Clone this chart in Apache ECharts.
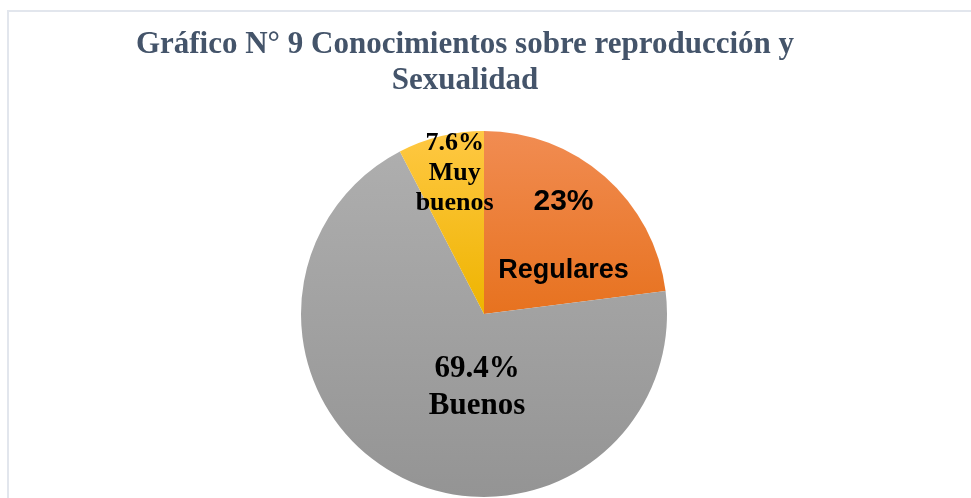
<!DOCTYPE html>
<html>
<head>
<meta charset="utf-8">
<script src="https://cdn.jsdelivr.net/npm/echarts@6/dist/echarts.min.js"></script>
<style>
  html, body { margin: 0; padding: 0; background: #fff; }
  #chart { width: 971px; height: 498px; }
</style>
</head>
<body>
<div id="chart"></div>
<script>
// datos del gráfico
const categorias = ["Regulares", "Buenos", "Muy buenos"];
const porcentajes = [23, 69.4, 7.6];
const etiquetas = ["23%", "69.4%", "7.6%"];

const titulo = "Gráfico N° 9 Conocimientos sobre reproducción y\nSexualidad";

function grad(top, bottom) {
  return new echarts.graphic.LinearGradient(0, 0, 0, 1, [
    { offset: 0, color: top },
    { offset: 1, color: bottom },
  ]);
}

const colores = [
  grad("#F18C52", "#E7721F"),
  grad("#AEAEAE", "#949494"),
  grad("#FFC843", "#EEB400"),
];

// estilos de etiqueta por porción
const etiquetaEstilo = [
  {
    offset: [17, -7],
    formatter: (p) => "{v|" + etiquetas[p.dataIndex] + "}\n{n|" + p.name + "}",
    rich: {
      v: { fontFamily: "Liberation Sans, Arial", fontWeight: "bold", fontSize: 30, lineHeight: 69, color: "#000" },
      n: { fontFamily: "Liberation Sans, Arial", fontWeight: "bold", fontSize: 27, lineHeight: 69, color: "#000" },
    },
  },
  {
    offset: [37, -10],
    formatter: (p) => "{v|" + etiquetas[p.dataIndex] + "}\n{v|" + p.name + "}",
    rich: {
      v: { fontFamily: "Liberation Serif, Times New Roman", fontWeight: "bold", fontSize: 31, lineHeight: 37, color: "#000" },
    },
  },
  {
    offset: [-7, -49],
    formatter: (p) => "{v|" + etiquetas[p.dataIndex] + "}\n{v|Muy}\n{v|buenos}",
    rich: {
      v: { fontFamily: "Liberation Serif, Times New Roman", fontWeight: "bold", fontSize: 26, lineHeight: 30, color: "#000" },
    },
  },
];

const myChart = echarts.init(document.getElementById("chart"));

myChart.setOption({
  animation: false,
  title: {
    text: titulo,
    left: 460,
    top: 22,
    textAlign: "center",
    textStyle: {
      fontFamily: "Liberation Serif, Times New Roman",
      fontWeight: "bold",
      fontSize: 31,
      lineHeight: 36,
      color: "#44546A",
    },
  },
  graphic: [
    {
      type: "rect",
      shape: { x: 8, y: 11, width: 1000, height: 600 },
      style: { fill: "none", stroke: "#E2E6ED", lineWidth: 2 },
      silent: true,
    },
  ],
  series: [
    {
      type: "pie",
      center: [484, 314],
      radius: [0, 183],
      startAngle: 90,
      clockwise: true,
      labelLine: { show: false },
      data: categorias.map((c, i) => ({
        name: c,
        value: porcentajes[i],
        itemStyle: { color: colores[i] },
        label: Object.assign({ show: true, position: "inside", align: "center" }, etiquetaEstilo[i]),
      })),
    },
  ],
});

window.addEventListener("resize", () => {
  myChart.resize();
});
</script>
</body>
</html>
